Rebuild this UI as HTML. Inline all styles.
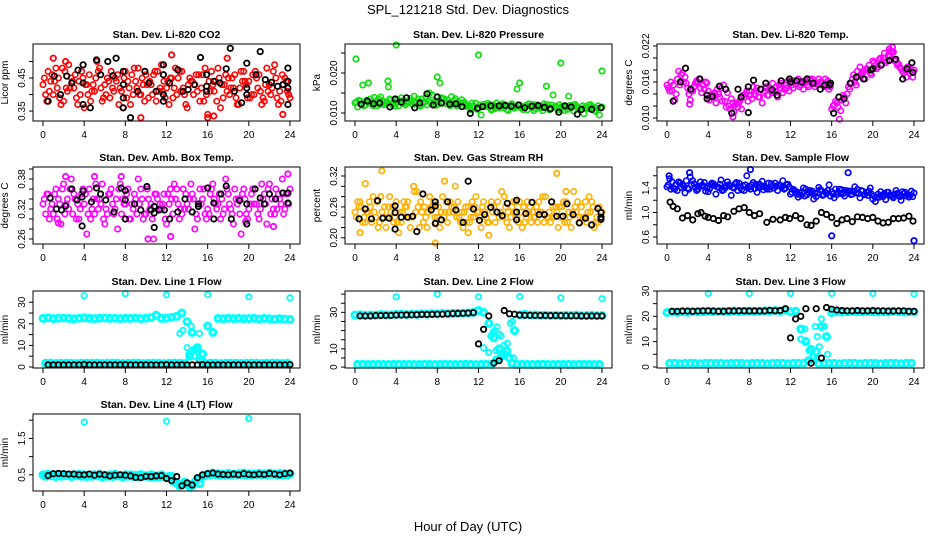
<!DOCTYPE html>
<html><head><meta charset="utf-8"><style>
body{margin:0;background:#fff;}
svg{display:block;font-family:"Liberation Sans",Arial,sans-serif;}
.pt{font-weight:bold;font-size:10.5px;}
.tk{font-size:10px;}
</style></head><body>
<svg id="chart" width="936" height="540" viewBox="0 0 936 540" xmlns="http://www.w3.org/2000/svg">
<rect width="936" height="540" fill="#fff"/>
<text x="468" y="14" text-anchor="middle" font-size="13">SPL_121218  Std. Dev. Diagnostics</text>
<text x="468" y="531" text-anchor="middle" font-size="13">Hour of Day (UTC)</text>
</svg>
<script>
// ---- data ----
const xTicks=[0,4,8,12,16,20,24];
const co2A=[0.43,0.47,0.40,0.45,0.38,0.49,0.42,0.44,0.36,0.46,0.41,0.48,0.43,0.39,0.45,0.42,0.47,0.37,0.44,0.40,0.46,0.43,0.38,0.49,0.42,0.45,0.40,0.47,0.36,0.44,0.41,0.46,0.34,0.43,0.48,0.39,0.45,0.42,0.37,0.47,0.44,0.40,0.46,0.38,0.43,0.49,0.41,0.45,0.39];
const co2B=[0.40,0.44,0.48,0.37,0.42,0.45,0.39,0.47,0.43,0.41,0.50,0.38,0.45,0.42,0.46,0.36,0.44,0.40,0.48,0.43,0.39,0.46,0.41,0.44,0.37,0.42,0.47,0.40,0.45,0.43,0.38,0.48,0.41,0.44,0.36,0.46,0.42,0.39,0.47,0.43,0.40,0.45,0.37,0.48,0.42,0.39,0.46,0.41,0.35];
const co2C=[0.45,0.41,0.44,0.39,0.47,0.42,0.46,0.40,0.43,0.38,0.45,0.42,0.40,0.47,0.44,0.41,0.39,0.46,0.42,0.45,0.43,0.40,0.47,0.41,0.44,0.39,0.45,0.42,0.43,0.40,0.46,0.38,0.44,0.41,0.45,0.43,0.40,0.46,0.42,0.44,0.39,0.47,0.41,0.43,0.40,0.45,0.38,0.44,0.42];
const co2D=[0.38,0.46,0.42,0.48,0.41,0.44,0.37,0.45,0.40,0.43,0.47,0.39,0.44,0.41,0.37,0.45,0.42,0.48,0.40,0.38,0.44,0.47,0.42,0.39,0.45,0.48,0.41,0.37,0.44,0.46,0.42,0.40,0.47,0.38,0.43,0.41,0.45,0.37,0.44,0.39,0.46,0.42,0.39,0.41,0.47,0.37,0.43,0.40,0.46];
const co2Ex=[1.0,2.2,9.5,12.5,16.0,16.6,17.9,23.3],co2Ey=[0.51,0.50,0.33,0.52,0.33,0.335,0.51,0.34];
const co2Bx=[0.5,1.1,1.7,2.3,2.8,3.4,3.9,3.9,3.9,4.6,5.2,5.6,6.3,6.8,7.1,7.8,7.8,7.8,7.8,8.5,9.2,9.9,10.3,11.0,11.7,11.7,11.7,11.7,12.3,13.1,13.6,14.1,14.7,15.3,15.9,15.9,15.9,16.6,17.2,17.8,18.2,18.6,19.3,19.8,19.8,19.8,20.7,21.1,21.6,22.2,22.8,23.3,23.8,23.8,23.8,23.8];
const co2By=[0.38,0.456,0.40,0.456,0.435,0.474,0.49,0.435,0.37,0.36,0.505,0.46,0.50,0.457,0.51,0.47,0.43,0.39,0.36,0.33,0.41,0.47,0.435,0.41,0.49,0.46,0.40,0.38,0.435,0.475,0.41,0.415,0.43,0.512,0.46,0.425,0.41,0.44,0.435,0.478,0.54,0.41,0.375,0.495,0.42,0.40,0.46,0.53,0.445,0.437,0.425,0.43,0.48,0.44,0.42,0.37];

const prA=[0.0125,0.013,0.012,0.0135,0.0128,0.014,0.0122,0.0132,0.0125,0.0138,0.0124,0.013,0.0128,0.0135,0.012,0.0145,0.013,0.0125,0.0133,0.0122,0.0128,0.0126,0.012,0.0118,0.0112,0.0122,0.0115,0.0119,0.0113,0.0121,0.0117,0.0112,0.012,0.0114,0.0118,0.0111,0.0116,0.0119,0.0113,0.0117,0.011,0.0115,0.0112,0.0118,0.0109,0.0114,0.0117,0.0112,0.0115];
const prB=[0.0115,0.017,0.0128,0.0118,0.0135,0.0121,0.0165,0.0127,0.0118,0.0132,0.0126,0.0142,0.0119,0.0128,0.015,0.0123,0.0175,0.0131,0.0118,0.0136,0.0125,0.0119,0.0108,0.0124,0.0095,0.0119,0.0107,0.0125,0.0113,0.0109,0.0123,0.016,0.0115,0.0108,0.0122,0.0112,0.0106,0.0121,0.0145,0.0108,0.0117,0.0142,0.0105,0.0113,0.0098,0.012,0.0106,0.0095,0.0119];
const prC=[0.0128,0.0122,0.0132,0.0126,0.0118,0.0131,0.0127,0.0121,0.0134,0.0124,0.0129,0.0121,0.0135,0.0124,0.013,0.0127,0.0122,0.0136,0.0126,0.0131,0.0121,0.0127,0.0116,0.0113,0.012,0.0116,0.0121,0.0111,0.0118,0.0115,0.0121,0.0117,0.0112,0.0119,0.0115,0.012,0.0113,0.0116,0.012,0.0112,0.0117,0.0109,0.0119,0.0114,0.0118,0.0111,0.0115,0.0118,0.0111];
const prD=[0.0132,0.0118,0.0125,0.0139,0.0121,0.0128,0.0135,0.0117,0.0129,0.012,0.0137,0.0125,0.0117,0.014,0.0126,0.0119,0.0138,0.0123,0.0141,0.0118,0.0133,0.0116,0.0125,0.0109,0.0117,0.0124,0.0109,0.0117,0.0123,0.0106,0.0114,0.0119,0.0108,0.0123,0.0106,0.0117,0.0123,0.0108,0.0115,0.0121,0.0106,0.0119,0.0122,0.0108,0.0116,0.0121,0.0104,0.0113,0.0109];
const prEx=[0.1,4,12,20,24,1.3,3.2,8,16,18.6],prEy=[0.0235,0.027,0.0245,0.0225,0.0205,0.0175,0.018,0.019,0.0175,0.0167];
const prBx=[0.6,1.2,1.8,2.4,3.4,3.9,4.5,5,5.8,6.3,7,7.6,8,8.4,9.2,9.8,10.4,11.2,11.9,12.4,13.2,14,14.6,15.2,15.9,16.5,17.2,17.8,18.4,19,19.8,20.4,21,21.6,22,23,23.9];
const prBy=[0.0122,0.013,0.0123,0.0125,0.0115,0.0135,0.0127,0.0138,0.0113,0.0125,0.0148,0.012,0.014,0.0125,0.0122,0.0123,0.0116,0.0099,0.0112,0.0116,0.0118,0.0118,0.0119,0.0117,0.012,0.0113,0.0117,0.0119,0.0114,0.011,0.0102,0.0118,0.0115,0.0097,0.0109,0.0109,0.0113];

const tpA=[0.0155,0.0145,0.0165,0.0175,0.015,0.0145,0.016,0.0155,0.0145,0.0135,0.014,0.0155,0.012,0.011,0.0125,0.0135,0.0145,0.014,0.0135,0.0145,0.015,0.0145,0.015,0.0155,0.016,0.0158,0.0155,0.016,0.0162,0.0158,0.016,0.0155,0.0115,0.0125,0.013,0.014,0.0165,0.0178,0.0172,0.018,0.0195,0.0185,0.02,0.0205,0.021,0.019,0.0175,0.0185,0.018];
const tpB=[0.0145,0.013,0.0155,0.0168,0.013,0.0158,0.015,0.016,0.0135,0.0125,0.015,0.0118,0.0132,0.0125,0.0115,0.0145,0.0132,0.015,0.0125,0.0138,0.0158,0.0135,0.0142,0.0162,0.015,0.0165,0.0148,0.0152,0.0158,0.0165,0.0152,0.0148,0.0122,0.0098,0.0135,0.0148,0.016,0.0185,0.0165,0.0175,0.0188,0.02,0.0192,0.0212,0.0198,0.0182,0.0168,0.0178,0.0172];
const tpC=[0.015,0.0155,0.0178,0.016,0.014,0.0152,0.0165,0.0148,0.013,0.0142,0.0135,0.0128,0.0115,0.0122,0.013,0.014,0.0138,0.0145,0.0148,0.0152,0.0145,0.0152,0.0158,0.015,0.0155,0.0162,0.0158,0.0155,0.0165,0.0155,0.0158,0.0162,0.012,0.0118,0.0138,0.0152,0.0172,0.017,0.0178,0.0188,0.0192,0.0198,0.0208,0.0202,0.0195,0.0185,0.018,0.0175,0.0185];
const tpD=[0.016,0.014,0.0172,0.0158,0.0145,0.0162,0.0142,0.0158,0.014,0.0148,0.0128,0.0142,0.0125,0.0118,0.0138,0.0128,0.0152,0.0135,0.0142,0.0138,0.0142,0.0155,0.0148,0.0145,0.0162,0.0152,0.0162,0.0165,0.0152,0.016,0.0165,0.0152,0.0128,0.0112,0.0125,0.0158,0.0155,0.0175,0.0182,0.0172,0.0182,0.019,0.0195,0.021,0.0188,0.0178,0.0185,0.0168,0.0178];
const tpEx=[2.2,6.4,21.6,21.9],tpEy=[0.0123,0.0102,0.0215,0.0218];
const tpBx=[0.6,1.3,1.8,2.3,3.2,3.9,3.9,4.4,5.1,5.7,6.3,6.9,7.2,7.9,7.9,8.4,9.1,9.6,10.2,10.7,11.1,11.9,12.0,12.6,13.1,13.6,14.2,14.9,15.3,15.8,15.9,16.2,16.7,17.2,17.8,18.4,19.1,19.8,20,20.8,21.6,22.2,22.9,23.3,23.8,23.9];
const tpBy=[0.0128,0.016,0.0183,0.0148,0.0165,0.0138,0.0132,0.0136,0.0153,0.0148,0.0108,0.0148,0.0135,0.0152,0.0109,0.0163,0.0148,0.0158,0.0147,0.0138,0.0162,0.0165,0.016,0.0162,0.016,0.0165,0.0158,0.0148,0.0155,0.0155,0.0158,0.0108,0.0135,0.0132,0.0158,0.0168,0.0165,0.018,0.0182,0.0188,0.0196,0.0198,0.0165,0.0182,0.0192,0.0176];

const abA=[0.33,0.35,0.31,0.34,0.37,0.32,0.35,0.30,0.33,0.36,0.31,0.34,0.29,0.35,0.32,0.37,0.33,0.30,0.34,0.36,0.31,0.33,0.35,0.32,0.29,0.34,0.36,0.31,0.33,0.35,0.30,0.34,0.32,0.37,0.33,0.31,0.35,0.29,0.34,0.36,0.32,0.33,0.30,0.35,0.37,0.31,0.34,0.32,0.36];
const abB=[0.31,0.32,0.36,0.29,0.33,0.38,0.30,0.35,0.27,0.32,0.34,0.37,0.31,0.33,0.28,0.34,0.36,0.32,0.38,0.30,0.34,0.26,0.32,0.35,0.33,0.37,0.30,0.32,0.34,0.28,0.36,0.31,0.35,0.33,0.30,0.38,0.32,0.34,0.27,0.31,0.35,0.33,0.37,0.29,0.34,0.32,0.38,0.35,0.30];
const abC=[0.34,0.30,0.35,0.33,0.31,0.36,0.34,0.32,0.35,0.30,0.37,0.33,0.32,0.36,0.34,0.31,0.35,0.33,0.31,0.34,0.36,0.30,0.34,0.33,0.35,0.31,0.33,0.36,0.32,0.34,0.33,0.36,0.31,0.34,0.35,0.32,0.33,0.36,0.31,0.34,0.33,0.36,0.32,0.33,0.31,0.36,0.33,0.35,0.34];
const abD=[0.35,0.33,0.30,0.36,0.34,0.31,0.33,0.36,0.31,0.34,0.32,0.30,0.35,0.31,0.36,0.33,0.30,0.35,0.33,0.31,0.32,0.35,0.33,0.30,0.36,0.34,0.32,0.35,0.37,0.31,0.33,0.30,0.36,0.32,0.34,0.36,0.31,0.33,0.35,0.30,0.36,0.31,0.34,0.36,0.32,0.35,0.31,0.33,0.35];
const abEx=[1.5,2.2,5.0,7.6,10.2,12.4,19.7,22.4,23.8],abEy=[0.292,0.385,0.385,0.385,0.26,0.265,0.295,0.285,0.39];
const abBx=[0.7,1.3,1.8,2.2,2.8,3.3,3.8,3.8,3.9,4.7,5.2,5.6,6.1,6.9,7.6,8,8,8,8.9,9.5,10.1,10.5,10.8,10.8,10.8,11.3,11.8,12.3,13.1,13.8,14.5,15.1,15.1,16,16.6,16.6,17.3,17.8,18.3,19.1,19.8,19.8,20.6,21.1,21.5,22,22.6,23.3,23.8,23.8];
const abBy=[0.342,0.32,0.318,0.326,0.36,0.338,0.344,0.286,0.356,0.334,0.362,0.35,0.338,0.314,0.362,0.357,0.338,0.30,0.33,0.318,0.365,0.318,0.325,0.312,0.283,0.318,0.318,0.30,0.314,0.34,0.314,0.33,0.325,0.362,0.332,0.30,0.35,0.366,0.30,0.337,0.33,0.29,0.36,0.342,0.33,0.35,0.34,0.352,0.332,0.352];

const rhA=[0.25,0.27,0.23,0.26,0.24,0.28,0.22,0.25,0.27,0.23,0.26,0.24,0.29,0.25,0.22,0.26,0.24,0.28,0.23,0.25,0.27,0.22,0.26,0.24,0.25,0.27,0.23,0.26,0.24,0.28,0.22,0.25,0.27,0.23,0.26,0.24,0.25,0.28,0.23,0.26,0.24,0.27,0.22,0.25,0.26,0.23,0.27,0.24,0.25];
const rhB=[0.27,0.23,0.25,0.28,0.22,0.24,0.26,0.23,0.21,0.27,0.24,0.29,0.22,0.26,0.28,0.24,0.22,0.25,0.27,0.30,0.23,0.26,0.24,0.28,0.22,0.24,0.27,0.25,0.29,0.23,0.26,0.24,0.22,0.27,0.25,0.23,0.28,0.24,0.26,0.22,0.27,0.25,0.29,0.23,0.24,0.28,0.22,0.26,0.23];
const rhC=[0.24,0.26,0.25,0.23,0.27,0.25,0.24,0.26,0.23,0.25,0.27,0.24,0.26,0.23,0.25,0.27,0.26,0.24,0.25,0.26,0.24,0.25,0.23,0.26,0.24,0.25,0.26,0.23,0.25,0.26,0.24,0.27,0.25,0.24,0.23,0.26,0.25,0.24,0.27,0.25,0.26,0.23,0.25,0.27,0.24,0.25,0.26,0.23,0.24];
const rhD=[0.26,0.24,0.27,0.25,0.23,0.26,0.28,0.24,0.25,0.26,0.22,0.25,0.27,0.24,0.26,0.23,0.25,0.27,0.26,0.24,0.25,0.23,0.27,0.25,0.26,0.23,0.25,0.27,0.24,0.25,0.27,0.23,0.26,0.25,0.24,0.27,0.23,0.25,0.24,0.26,0.23,0.24,0.26,0.24,0.27,0.25,0.23,0.25,0.26];
const rhEx=[0.5,1.0,2.6,5.7,7.8,8.7,11,13,19.6,20.5],rhEy=[0.21,0.305,0.33,0.30,0.19,0.31,0.21,0.205,0.325,0.29];
const rhBx=[0.4,1,1.6,2.2,2.7,3.3,3.9,3.9,3.9,4.5,5.1,5.6,6.0,6.6,7.4,7.8,7.8,7.8,8.4,9.0,9.8,10.5,11,11.5,12.1,12.6,13.2,13.8,14.3,14.8,15.7,15.7,15.7,16.6,17.2,17.9,18.4,19.1,19.6,20.2,20.6,21.2,21.8,22.4,23.0,23.6,23.9,23.9,23.9];
const rhBy=[0.237,0.256,0.237,0.272,0.238,0.238,0.262,0.249,0.217,0.24,0.24,0.242,0.212,0.285,0.254,0.262,0.27,0.228,0.235,0.27,0.254,0.23,0.31,0.256,0.234,0.245,0.259,0.25,0.243,0.267,0.273,0.25,0.235,0.247,0.269,0.245,0.245,0.27,0.242,0.242,0.266,0.245,0.229,0.238,0.225,0.257,0.249,0.24,0.236];

const sfA=[1.42,1.50,1.36,1.46,1.40,1.52,1.38,1.44,1.34,1.47,1.41,1.37,1.45,1.40,1.48,1.36,1.43,1.39,1.46,1.42,1.38,1.48,1.44,1.40,1.30,1.35,1.28,1.38,1.32,1.26,1.36,1.31,1.34,1.29,1.37,1.33,1.30,1.38,1.35,1.28,1.22,1.30,1.26,1.33,1.24,1.29,1.31,1.25,1.32];
const sfB=[1.55,1.38,1.48,1.32,1.58,1.41,1.50,1.35,1.45,1.30,1.53,1.44,1.28,1.49,1.37,1.60,1.45,1.33,1.51,1.38,1.44,1.36,1.52,1.46,1.38,1.25,1.40,1.33,1.22,1.41,1.29,1.45,1.24,1.38,1.27,1.35,1.42,1.24,1.30,1.40,1.18,1.34,1.21,1.28,1.36,1.20,1.27,1.35,1.23];
const sfC=[1.45,1.40,1.50,1.43,1.38,1.47,1.42,1.49,1.39,1.44,1.46,1.40,1.43,1.47,1.41,1.45,1.38,1.46,1.42,1.40,1.47,1.43,1.41,1.45,1.33,1.30,1.34,1.29,1.35,1.32,1.28,1.36,1.30,1.33,1.31,1.35,1.34,1.31,1.29,1.35,1.27,1.25,1.31,1.28,1.30,1.26,1.33,1.28,1.30];
const sfD=[1.38,1.46,1.41,1.52,1.45,1.36,1.44,1.40,1.48,1.42,1.36,1.50,1.41,1.36,1.44,1.40,1.49,1.41,1.37,1.48,1.40,1.45,1.38,1.42,1.36,1.32,1.27,1.36,1.31,1.37,1.33,1.27,1.38,1.31,1.36,1.29,1.32,1.36,1.33,1.30,1.25,1.28,1.33,1.26,1.31,1.34,1.29,1.26,1.34];
const sfEx=[0.2,2.2,8.1,16,17.6,24],sfEy=[1.60,1.65,1.70,0.62,1.65,0.54];
const sfBx=[0.3,0.6,1.0,1.5,2.0,2.5,3.0,3.3,3.7,4.0,4.5,5.0,5.5,5.9,6.5,7.0,7.5,8.0,8.5,9.0,9.7,10.3,11.0,11.5,11.9,12.5,13.0,13.6,14.0,14.5,15.0,15.5,16.0,16.5,17.0,17.5,18.0,18.5,19.0,19.5,20.0,20.5,21.0,21.5,22.0,22.5,23.0,23.5,23.9];
const sfBy=[1.17,1.1,1.06,0.91,0.95,0.88,0.98,1.0,0.94,0.92,0.9,0.87,0.95,0.93,1.02,1.06,1.08,1.0,0.95,0.98,0.84,0.89,0.88,0.92,0.9,0.95,0.9,0.8,0.79,0.86,1.0,0.97,0.92,0.82,0.88,0.9,0.85,0.93,0.92,0.9,0.92,0.86,0.83,0.84,0.9,0.9,0.91,0.94,0.86];

const l1A=[22.5,22.8,22.4,22.6,22.7,22.5,22.3,22.6,22.8,22.5,22.4,22.6,22.7,22.5,22.6,22.4,22.6,22.5,22.7,22.4,22.6,22.9,24,22.5,22.6,23,23.5,25,21,16,9,6,19,16,22.5,22.3,22.6,22.4,22.5,22.3,22.4,22.6,22.2,22.5,22.3,22.1,22.4,22.2,22.0];
const l1Low=[1.7,1.8,1.6,1.7,1.8,1.7,1.6,1.8,1.7,1.7,1.8,1.6,1.7,1.8,1.7,1.6,1.7,1.8,1.7,1.6,1.7,1.8,1.7,1.6,1.7,1.8,1.7,1.6,5,8,3,1.7,1.8,1.7,1.6,1.7,1.8,1.7,1.6,1.7,1.8,1.7,1.6,1.7,1.8,1.7,1.6,1.7,1.8];
const l1Ex=[4,8,12,16,20,24,13.3,13.6,14.0,14.2,14.4,14.7,14.8,15.2,15.5],l1Ey=[33,34,33.5,33.5,32.5,32,15.5,17,9,6,19,5,8.5,15.5,3];
const l1Black=[1,1,1,1,1,1,1,1.2,1,1,1,1,1,1,1,1.1,1,1,1,1,1,1,1,1.1,1,1,1,1,1,1,1.1,1,1,1,1,1,1,1,1,1,1,1,1,1,1,1,1,1.1];

const l2A=[28.5,28.7,28.4,28.6,28.5,28.8,28.6,28.7,28.9,29,28.8,29.1,28.9,29.2,29,29.3,29.1,29.4,29.2,29.5,29.4,29.6,29.7,30,31,30,24,16,10,7,5,20,28.6,29,28.5,28.6,28.4,28.5,28.3,28.4,28.2,28.4,28.3,28.5,28.2,28.3,28.4,28.2,28.3];
const l2Low=[1.5,1.6,1.4,1.5,1.6,1.5,1.4,1.6,1.5,1.5,1.6,1.4,1.5,1.6,1.5,1.4,1.5,1.6,1.5,1.4,1.5,1.6,1.5,1.4,1.5,1.6,1.5,4,6,9,2,1.5,1.6,1.5,1.4,1.5,1.6,1.5,1.4,1.5,1.6,1.5,1.4,1.5,1.6,1.5,1.4,1.5,1.6];
const l2Ex=[4,8,12,16,20,24,12.5,13.2,13.4,13.6,13.8,14.0,14.2,14.5,14.8,15.1,15.3,15.4,13.0,13.7],l2Ey=[38.5,40,38.5,38.7,38,37.5,10.5,17,19,20,22,18,17,12,13,24,25,5,8,9];
const l2Black=[28,28,28,28.2,28.2,28.3,28.3,28.5,28.5,28.6,28.6,28.7,28.8,28.8,28.9,29,29,29.2,29.3,29.4,29.5,29.6,29.8,12.7,20.7,28,2.2,3.5,31,29.2,29,28.5,28.4,28.4,28.3,28.3,28.3,28.2,28.2,28.2,28.1,28.1,28.1,28,28,28,28,28];

const l3A=[21.5,21.7,21.5,21.8,21.6,21.9,21.7,21.8,22,21.8,21.9,22,21.8,22.1,21.9,22,22.1,21.9,22,22.2,22.1,22.3,22,22.5,21.8,22,15,10,7,6,16,12,21.5,21.8,21.7,21.8,21.9,21.8,21.7,21.9,21.8,21.7,21.8,21.7,21.9,21.8,21.7,21.8,21.7];
const l3Low=[1.4,1.5,1.3,1.4,1.5,1.4,1.3,1.5,1.4,1.4,1.5,1.3,1.4,1.5,1.4,1.3,1.4,1.5,1.4,1.3,1.4,1.5,1.4,1.3,1.4,1.5,1.4,2.5,4,1.3,1.4,1.5,1.4,1.3,1.4,1.5,1.4,1.3,1.4,1.5,1.4,1.3,1.4,1.5,1.4,1.3,1.4,1.5,1.4];
const l3Ex=[4,8,12,16,20,24,13.0,13.4,13.5,13.8,14.1,14.4,14.6,15.3,15.6,15.0,14.8],l3Ey=[29,29,29,29,29,28.8,11,15,10.5,6.5,4,16,12,16,5,19,8];
const l3Black=[22,22,22.1,22.1,22,22.1,22.2,22.2,22.1,22,22,22.2,22.1,22.2,22.2,22.1,22.2,22.1,22.1,22.4,22.2,22.3,23,11.5,19,20,23,1.5,23,3.5,23.5,22.8,22.5,22.3,22.2,22.2,22.3,22.2,22.2,22.3,22.2,22.2,22.1,22.1,22.2,22.2,22,22];

const l4A=[0.5,0.52,0.48,0.5,0.51,0.49,0.5,0.52,0.5,0.48,0.5,0.51,0.49,0.5,0.52,0.48,0.5,0.5,0.49,0.51,0.48,0.5,0.47,0.5,0.42,0.46,0.28,0.22,0.25,0.2,0.38,0.45,0.52,0.55,0.53,0.52,0.54,0.52,0.53,0.55,0.53,0.52,0.54,0.53,0.55,0.52,0.54,0.53,0.52];
const l4Low=[0.46,0.47,0.45,0.46,0.48,0.45,0.47,0.46,0.45,0.46,0.47,0.44,0.46,0.45,0.47,0.44,0.46,0.45,0.44,0.46,0.45,0.43,0.44,0.45,0.46,0.3,0.2,0.3,0.18,0.3,0.26,0.48,0.5,0.5,0.49,0.5,0.5,0.51,0.5,0.49,0.5,0.51,0.5,0.5,0.51,0.5,0.49,0.5,0.51];
const l4Ex=[4,12,20],l4Ey=[1.95,1.97,2.05];
const l4Black=[0.48,0.53,0.54,0.53,0.52,0.52,0.5,0.5,0.52,0.49,0.52,0.5,0.47,0.49,0.5,0.49,0.47,0.43,0.42,0.46,0.45,0.47,0.48,0.4,0.34,0.45,0.2,0.28,0.22,0.42,0.5,0.53,0.55,0.52,0.51,0.5,0.52,0.5,0.53,0.51,0.5,0.52,0.51,0.54,0.52,0.5,0.53,0.55];

// ---- layout ----
const NS="http://www.w3.org/2000/svg";
const svg=document.getElementById('chart');
const colX0=[43,355,667], rowTop=[44,167,291,414], rowH=77, hourW=247/24;
const offs=[0,0.25,0.125,0.375];
function mk(tag,attrs,parent){const e=document.createElementNS(NS,tag);for(const k in attrs)e.setAttribute(k,attrs[k]);(parent||svg).appendChild(e);return e;}
function half(n){const a=[];for(let i=0;i<n;i++)a.push(i*0.5);return a;}
function halfFrom(n){const a=[];for(let i=0;i<n;i++)a.push(0.5+i*0.5);return a;}

const panels=[
 {key:'co2',title:'Stan. Dev. Li-820 CO2',yl:'Licor ppm',c:0,r:0,d:[0.32,0.553],ticks:[0.35,0.40,0.45,0.50],labs:['0.35','','0.45',''],col:'#ff0000',ser:[co2A,co2B,co2C,co2D],ex:[co2Ex,co2Ey],bx:co2Bx,by:co2By,sw:1.6,rr:2.7},
 {key:'pressure',title:'Stan. Dev. Li-820 Pressure',yl:'kPa',c:1,r:0,d:[0.008,0.02725],ticks:[0.010,0.015,0.020,0.025],labs:['0.010','','0.020',''],col:'#11dd11',ser:[prA,prB,prC,prD],ex:[prEx,prEy],bx:prBx,by:prBy,sw:1.6,rr:2.7},
 {key:'temp',title:'Stan. Dev. Li-820 Temp.',yl:'degrees C',c:2,r:0,d:[0.0095,0.02233],ticks:[0.010,0.012,0.014,0.016,0.018,0.020,0.022],labs:['0.010','','','0.016','','','0.022'],col:'#ff00ff',ser:[tpA,tpB,tpC,tpD],ex:[tpEx,tpEy],bx:tpBx,by:tpBy,sw:1.6,rr:2.7},
 {key:'amb-box',title:'Stan. Dev. Amb. Box Temp.',yl:'degrees C',c:0,r:1,d:[0.25,0.404],ticks:[0.26,0.28,0.30,0.32,0.34,0.36,0.38,0.40],labs:['0.26','','','0.32','','','0.38',''],col:'#ff00ff',ser:[abA,abB,abC,abD],ex:[abEx,abEy],bx:abBx,by:abBy,sw:1.6,rr:2.7},
 {key:'rh',title:'Stan. Dev. Gas Stream RH',yl:'percent',c:1,r:1,d:[0.188,0.3375],ticks:[0.20,0.22,0.24,0.26,0.28,0.30,0.32],labs:['0.20','','','0.26','','','0.32'],col:'#ffb000',ser:[rhA,rhB,rhC,rhD],ex:[rhEx,rhEy],bx:rhBx,by:rhBy,sw:1.6,rr:2.7},
 {key:'sample-flow',title:'Stan. Dev. Sample Flow',yl:'ml/min',c:2,r:1,d:[0.486,1.743],ticks:[0.6,0.8,1.0,1.2,1.4,1.6],labs:['0.6','','1.0','','1.4',''],col:'#0000ff',ser:[sfA,sfB,sfC,sfD],ex:[sfEx,sfEy],bx:sfBx,by:sfBy,sw:1.6,rr:2.7},
 {key:'line1',title:'Stan. Dev. Line 1 Flow',yl:'ml/min',c:0,r:2,d:[-0.47,35.2],ticks:[0,5,10,15,20,25,30],labs:['0','','10','','20','','30'],col:'#00ffff',ser:[l1A,l1Low],ex:[l1Ex,l1Ey],bx:halfFrom(48),by:l1Black,sw:3,rr:3},
 {key:'line2',title:'Stan. Dev. Line 2 Flow',yl:'ml/min',c:1,r:2,d:[-0.5,41.7],ticks:[0,5,10,15,20,25,30,35,40],labs:['0','','10','','','','30','',''],col:'#00ffff',ser:[l2A,l2Low],ex:[l2Ex,l2Ey],bx:halfFrom(48),by:l2Black,sw:3,rr:3},
 {key:'line3',title:'Stan. Dev. Line 3 Flow',yl:'ml/min',c:2,r:2,d:[-0.4,30],ticks:[0,5,10,15,20,25,30],labs:['0','','10','','20','','30'],col:'#00ffff',ser:[l3A,l3Low],ex:[l3Ex,l3Ey],bx:halfFrom(48),by:l3Black,sw:3,rr:3},
 {key:'line4',title:'Stan. Dev. Line 4 (LT) Flow',yl:'ml/min',c:0,r:3,d:[0.056,2.17],ticks:[0.5,1.0,1.5,2.0],labs:['0.5','','1.5',''],col:'#00ffff',ser:[l4A,l4Low],ex:[l4Ex,l4Ey],bx:halfFrom(48),by:l4Black,sw:3,rr:3}
];

panels.forEach(p=>{
  const x0=colX0[p.c], top=rowTop[p.r], bot=top+rowH;
  const xs=h=>x0+h*hourW;
  const ys=v=>bot-(v-p.d[0])/(p.d[1]-p.d[0])*rowH;
  const g=mk('g',{});
  
  
  const t=mk('text',{x:x0+123.5,y:top-6,'text-anchor':'middle',class:'pt'},g);
  
  
  t.textContent=p.title;
  const pts=mk('g',{fill:'none','stroke-width':1.6},g);
  
  
  p.ser.forEach((arr,si)=>{
    const hrs=half(arr.length);
    arr.forEach((v,i)=>{
      const h=hrs[i]+offs[si];
      if(h>24) return;
      const c=mk('circle',{cx:xs(h).toFixed(1),cy:ys(v).toFixed(1),r:p.rr,stroke:p.col,'stroke-width':p.sw},pts);
      
      
    });
  });
  p.ex[0].forEach((h,i)=>{
    const c=mk('circle',{cx:xs(h).toFixed(1),cy:ys(p.ex[1][i]).toFixed(1),r:2.7,stroke:p.col,'stroke-width':1.8},pts);
    
    
  });
  p.bx.forEach((h,i)=>{
    const c=mk('circle',{cx:xs(h).toFixed(1),cy:ys(p.by[i]).toFixed(1),r:2.7,stroke:'#000','stroke-width':1.8},pts);
    
    
  });
  const b=mk('rect',{x:x0-10,y:top,width:267,height:rowH,fill:'none',stroke:'#000','stroke-width':1},g);
  
  
  const xa=mk('g',{},g);
  
  
  mk('line',{x1:xs(0),x2:xs(24),y1:bot,y2:bot,stroke:'#000'},xa);
  xTicks.forEach(h=>{
    mk('line',{x1:xs(h),x2:xs(h),y1:bot,y2:bot+5,stroke:'#000'},xa);
    const l=mk('text',{x:xs(h),y:bot+17,'text-anchor':'middle',class:'tk'},xa);
    
    
    l.textContent=h;
  });
  const ya=mk('g',{},g);
  
  
  const bl=x0-10;
  p.ticks.forEach((v,i)=>{
    const y=ys(v);
    mk('line',{x1:bl,x2:bl-4,y1:y,y2:y,stroke:'#000'},ya);
    if(p.labs[i]){
      const l=mk('text',{x:bl-8,y:y,'text-anchor':'middle',class:'tk',transform:`rotate(-90 ${bl-8} ${y})`},ya);
      
      
      l.textContent=p.labs[i];
    }
  });
  const yc=(top+bot)/2, yx=bl-25;
  const yt=mk('text',{x:yx,y:yc,'text-anchor':'middle',class:'tk',transform:`rotate(-90 ${yx} ${yc})`},ya);
  
  
  yt.textContent=p.yl;
});
</script>
</body></html>
